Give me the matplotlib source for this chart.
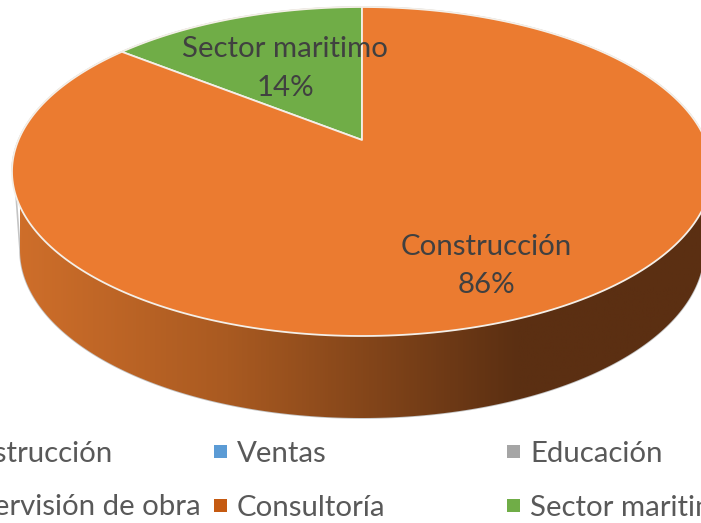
import matplotlib
matplotlib.use('Agg')
import matplotlib.pyplot as plt
from matplotlib.colors import LinearSegmentedColormap
from matplotlib.patches import Polygon, Rectangle
import numpy as np

plt.rcParams['font.family'] = ['Lato', 'DejaVu Sans']

slice_names = ['Construcción', 'Sector maritimo']
slice_values = [85.7, 14.3]
slice_colors = ['#EB7B30', '#70AD47']

legend_names = ['Construcción', 'Ventas', 'Educación',
                'Supervisión de obra', 'Consultoría', 'Sector maritimo']
legend_colors = ['#ED7D31', '#5B9BD5', '#A5A5A5', '#FFC000', '#C55A11', '#70AD47']

W, H = 701, 523
fig = plt.figure(figsize=(W / 100, H / 100), dpi=100)
ax = fig.add_axes([0, 0, 1, 1])

# pie geometry, in pixels
apex = (362, 140)
top_y, bot_y = 7, 336
half_w = 350
lower = dict(cx=362, cy=250, rx=342, ry=168)

# perspective: unit circle to the tilted top face, with the centre going to apex
up, down = apex[1] - top_y, bot_y - apex[1]
persp = (down - up) / (down + up)
ay = up * (1 + persp)
ax_ = half_w * np.sqrt(1 - persp ** 2)


def project(theta):
    # theta is clockwise from 12 o'clock
    u, v = np.sin(theta), np.cos(theta)
    d = 1 + persp * v
    return apex[0] + ax_ * u / d, apex[1] - ay * v / d


# side wall with the gradient
t = np.linspace(0, np.pi, 200)
wall_x = np.r_[lower['cx'] + lower['rx'] * np.cos(t), 16, 712]
wall_y = np.r_[lower['cy'] + lower['ry'] * np.sin(t), 195, 171]
wall = Polygon(np.c_[wall_x, wall_y], closed=True, fc='none', ec='#C4C4C4', lw=1.2)
ax.add_patch(wall)
cmap = LinearSegmentedColormap.from_list(
    'wall', [(0, '#CE6E2A'), (0.3, '#A95A21'), (0.72, '#5B2F12'), (1, '#5B2F12')])
grad = np.linspace(0, 1, 512).reshape(1, -1)
im = ax.imshow(grad, cmap=cmap, extent=(20, 712, 430, 150), aspect='auto', zorder=2)
im.set_clip_path(wall)

# top face slices, going anticlockwise from 12 o'clock like the original
start = 0.0
for name, val, col in zip(slice_names[::-1], slice_values[::-1], slice_colors[::-1]):
    span = 2 * np.pi * val / sum(slice_values)
    th = np.linspace(start, start + span, 300)
    px, py = project(-th)
    pts = np.c_[np.r_[apex[0], px], np.r_[apex[1], py]]
    ax.add_patch(Polygon(pts, closed=True, fc=col, ec='#F4EFE8', lw=1.3, zorder=3,
                         joinstyle='round'))
    start += span

# thin grey rim along the back of the top face
th = np.linspace(-np.pi * 0.56, np.pi * 0.56, 300)
px, py = project(th)
ax.plot(px, py, color='#BDBDBD', lw=1.0, zorder=2.5)

# data labels
label_pos = {'Construcción': (486, 255, 293), 'Sector maritimo': (285, 57, 96)}
for name, val in zip(slice_names, slice_values):
    x, y1, y2 = label_pos[name]
    ax.text(x, y1, name, ha='center', va='baseline', fontsize=21.2, color='#404040', zorder=5)
    ax.text(x, y2, f'{val:.0f}%', ha='center', va='baseline', fontsize=21.2, color='#404040', zorder=5)

# legend, runs off the edges of the picture
col_x = [-30, 214, 507]
row_y = [445, 499]
first_col_right = 201
for i, (name, col) in enumerate(zip(legend_names, legend_colors)):
    r, c = i // 3, i % 3
    if c == 0:
        # first column was cut at the left
        right = 113 if r == 0 else first_col_right
        ax.text(right, row_y[r] + 16.5, name, ha='right', va='baseline',
                fontsize=21.2, color='#595959')
    else:
        ax.add_patch(Rectangle((col_x[c], row_y[r]), 13, 13, fc=col, ec='none'))
        ax.text(col_x[c] + 23, row_y[r] + 16.5, name, ha='left', va='baseline',
                fontsize=21.2, color='#595959')

ax.set_xlim(0, W)
ax.set_ylim(H, 0)
ax.axis('off')
fig.savefig('out.png', dpi=100)
